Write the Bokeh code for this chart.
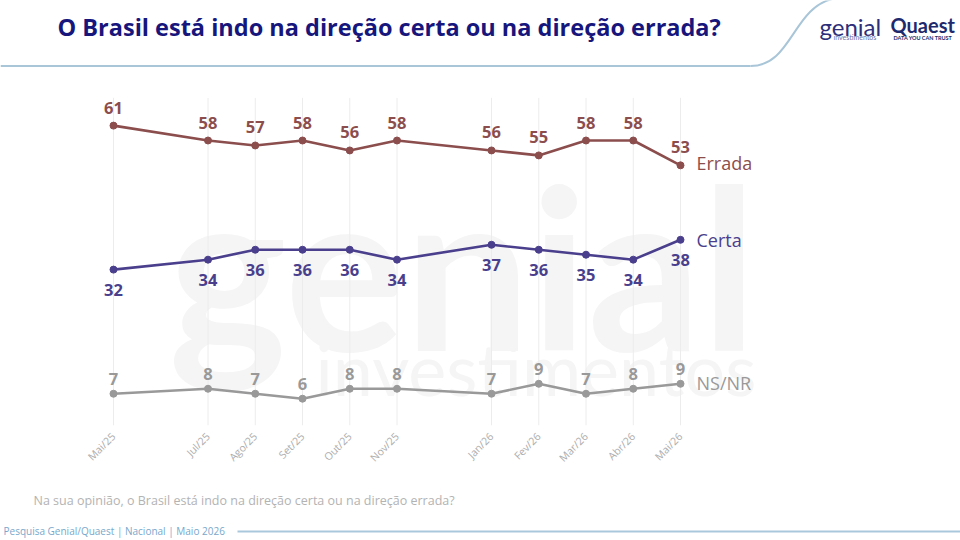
import math
from bokeh.plotting import figure
from bokeh.layouts import column
from bokeh.models import Range1d, LinearAxis, FixedTicker, Label
from bokeh.core.properties import value
from bokeh.embed import file_html
from bokeh.resources import INLINE

# ---------------- data ----------------
months = ["Mai/25", "Jul/25", "Ago/25", "Set/25", "Out/25", "Nov/25",
          "Jan/26", "Fev/26", "Mar/26", "Abr/26", "Mai/26"]
month_idx = [0, 2, 3, 4, 5, 6, 8, 9, 10, 11, 12]   # months since Mai/25
errada = [61, 58, 57, 58, 56, 58, 56, 55, 58, 58, 53]
certa = [32, 34, 36, 36, 36, 34, 37, 36, 35, 34, 38]
nsnr = [7, 8, 7, 6, 8, 8, 7, 9, 7, 8, 9]
series_names = ["Errada", "Certa", "NS/NR"]

title_text = "O Brasil está indo na direção certa ou na direção errada?"
question_text = "Na sua opinião, o Brasil está indo na direção certa ou na direção errada?"
source_text = "Pesquisa Genial/Quaest | Nacional | Maio 2026"

# ---------------- layout helpers (page pixels -> data) ----------------
W = 960
H_MAIN, H_FOOT = 472, 68
X0, DXP = 113.0, 47.25
Y0, DYP = 431.0, 5.0
def dx(px):
    return (px - X0) / DXP
def dy(py):
    return (Y0 - py) / DYP

FRAME_BOTTOM = 428
FONT = "Open Sans"

p = figure(width=W, height=H_MAIN, output_backend="svg", toolbar_location=None,
           x_range=Range1d(dx(0), dx(W)), y_range=Range1d(dy(FRAME_BOTTOM), dy(0)),
           x_axis_location=None, y_axis_location=None,
           min_border_left=0, min_border_right=0, min_border_top=0,
           min_border_bottom=H_MAIN - FRAME_BOTTOM)
p.outline_line_color = None
p.grid.visible = False
p.background_fill_color = "white"
p.border_fill_color = "white"

# faint watermark
WM = "#f5f5f5"
p.text([dx(168)], [dy(266)], text=["genial"], text_align="left", text_baseline="alphabetic",
       text_font=value("Lato"), text_font_style="bold", text_font_size="224px", text_color=WM)
p.text([dx(315)], [dy(370)], text=["investimentos"], text_align="left",
       text_baseline="alphabetic", text_font=value("Lato"), text_font_size="72px",
       text_color=WM)

# x axis
xaxis = LinearAxis(ticker=FixedTicker(ticks=month_idx),
                   major_label_overrides={i: m for i, m in zip(month_idx, months)})
xaxis.axis_line_color = None
xaxis.major_tick_line_color = None
xaxis.minor_tick_line_color = None
xaxis.major_label_orientation = math.pi / 4
xaxis.major_label_text_color = "#adadad"
xaxis.major_label_text_font = FONT
xaxis.major_label_text_font_size = "10.5px"
xaxis.major_label_standoff = 3
p.add_layout(xaxis, "below")

# vertical guide lines at each survey
n = len(month_idx)
p.segment(x0=month_idx, y0=[dy(428)] * n, x1=month_idx, y1=[dy(98)] * n,
          line_color="#ececec", line_width=1)

# series
styles = [
    (errada, "#8c4d4d", -18, -2),
    (certa, "#4a3f8c", 20, 0),
    (nsnr, "#999999", -15, -1),
]
for (vals, color, off, name_off), name in zip(styles, series_names):
    p.line(month_idx, vals, line_color=color, line_width=2.6)
    p.scatter(month_idx, vals, size=7, fill_color=color, line_color=color)
    p.text(month_idx, vals, text=[str(v) for v in vals], text_align="center",
           text_baseline="middle", y_offset=off, text_color=color,
           text_font=value(FONT), text_font_style="bold", text_font_size="16.5px")
    p.text([month_idx[-1]], [vals[-1]], text=[name], x_offset=16, y_offset=name_off,
           text_align="left", text_baseline="middle", text_color=color,
           text_font=value(FONT), text_font_size="18px")

# ---------------- header ----------------
p.add_layout(Label(x=dx(57), y=dy(27), text=title_text, text_baseline="middle",
                   text_font=FONT, text_font_style="bold", text_font_size="23.5px",
                   text_color="#16167c"))
# decorative rule under the title with the upward swoosh
p.line(x=[dx(0), dx(750)], y=[dy(66), dy(66)], line_color="#a9c5d8", line_width=2)
p.bezier(x0=[dx(750)], y0=[dy(66)], x1=[dx(834)], y1=[dy(-2)],
         cx0=[dx(792)], cy0=[dy(66)], cx1=[dx(792)], cy1=[dy(6)],
         line_color="#a9c5d8", line_width=2)
# logos
p.add_layout(Label(x=dx(819), y=dy(26), text="genial", text_baseline="middle",
                   text_font="Lato", text_font_size="24px", text_color="#2d2f7a"))
p.add_layout(Label(x=dx(833), y=dy(37), text="investimentos", text_baseline="middle",
                   text_font="Lato", text_font_size="7px", text_color="#6d70a8"))
p.add_layout(Label(x=dx(890), y=dy(25), text="Quaest", text_baseline="middle",
                   text_font="Lato", text_font_style="bold", text_font_size="20px",
                   text_color="#1e2a6e"))
p.add_layout(Label(x=dx(893), y=dy(38), text="DATA YOU CAN TRUST", text_baseline="middle",
                   text_font="Lato", text_font_style="bold", text_font_size="5.5px",
                   text_color="#1e2a6e"))

# ---------------- footer (own small figure, page-pixel coordinates) ----------------
f = figure(width=W, height=H_FOOT, output_backend="svg", toolbar_location=None,
           x_range=Range1d(0, W), y_range=Range1d(H_MAIN + H_FOOT, H_MAIN),
           x_axis_location=None, y_axis_location=None,
           min_border_left=0, min_border_right=0, min_border_top=0, min_border_bottom=0)
f.outline_line_color = None
f.grid.visible = False
f.text([33], [500], text=[question_text], text_baseline="middle", text_align="left",
       text_font=value(FONT), text_font_size="12.5px", text_color="#b3b3b3")
f.text([3], [530], text=[source_text], text_baseline="middle", text_align="left",
       text_font=value(FONT), text_font_size="10px", text_color="#78a8cc")
f.line(x=[237, W], y=[531, 531], line_color="#a9c8dc", line_width=2)

layout = column(p, f, spacing=0)
open("out.html", "w").write(file_html(layout, INLINE))
